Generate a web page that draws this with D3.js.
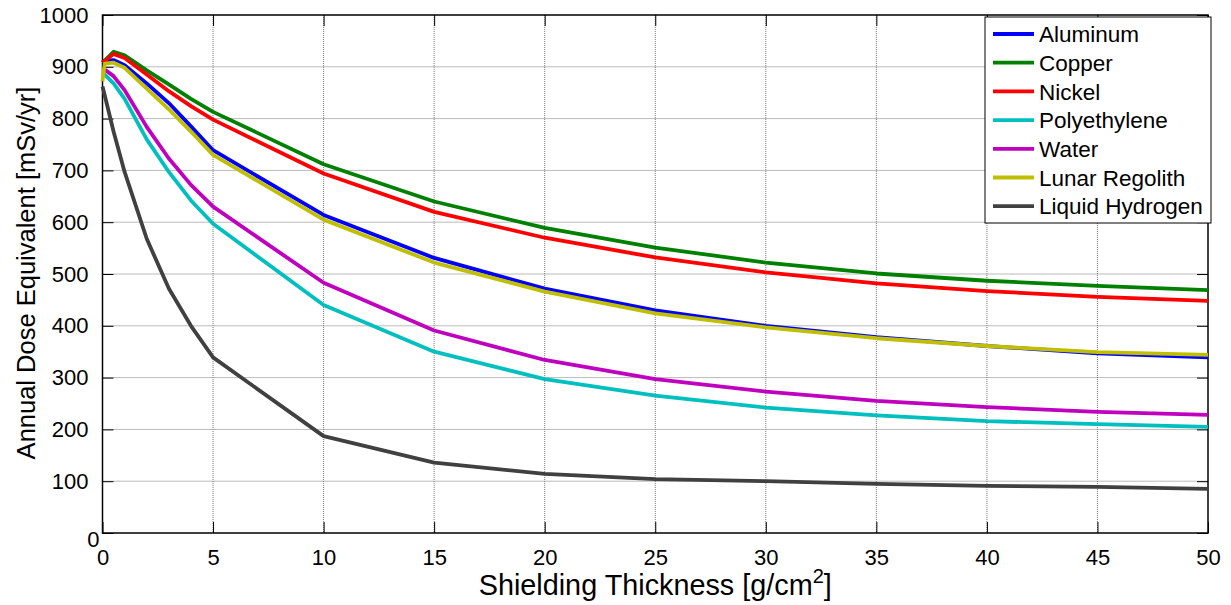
<!DOCTYPE html>
<html>
<head>
<meta charset="utf-8">
<script src="https://cdn.jsdelivr.net/npm/d3@7"></script>
<style>
    body { margin: 0; background: #fff; }
    text { font-family: "Liberation Sans", Arial, sans-serif; fill: #000; }
</style>
</head>
<body>
<div id="chart"></div>
<script>
// shielding thickness [g/cm2]
const thickness = [0, 0.1, 0.5, 1, 2, 3, 4, 5, 10, 15, 20, 25, 30, 35, 40, 45, 50];

// annual dose equivalent [mSv/yr]
const aluminum     = [908, 912, 913, 903, 868, 830, 785, 739, 614, 531, 472, 430, 400, 378, 361, 347, 339];
const copper       = [908, 912, 929, 922, 893, 866, 838, 813, 712, 640, 589, 551, 522, 501, 487, 477, 469];
const nickel       = [908, 911, 925, 917, 885, 853, 824, 798, 694, 620, 570, 532, 503, 482, 467, 456, 448];
const polyethylene = [888, 885, 868, 838, 760, 697, 642, 597, 440, 350, 297, 265, 242, 227, 216, 210, 205];
const water        = [897, 895, 882, 855, 784, 723, 672, 630, 483, 391, 334, 297, 273, 255, 243, 234, 228];
const regolith     = [872, 906, 908, 898, 858, 818, 775, 730, 605, 522, 466, 424, 397, 376, 361, 349, 344];
const hydrogen     = [862, 845, 775, 697, 568, 472, 400, 339, 187, 136, 114, 104, 100, 95, 91, 89, 85];

const seriesNames  = ['Aluminum', 'Copper', 'Nickel', 'Polyethylene', 'Water', 'Lunar Regolith', 'Liquid Hydrogen'];
const seriesValues = [aluminum, copper, nickel, polyethylene, water, regolith, hydrogen];
const seriesColors = ['#0000ff', '#008000', '#ff0000', '#00bfbf', '#bf00bf', '#bfbf00', '#404040'];

const xTicks = d3.range(0, 51, 5);
const yTicks = d3.range(0, 1001, 100);

const W = 1231, H = 605;
const margin = {top: 15, right: 23, bottom: 72, left: 102.5};
const width = W - margin.left - margin.right;
const height = H - margin.top - margin.bottom;

const svg = d3.select('#chart').append('svg')
    .attr('width', W)
    .attr('height', H);
const g = svg.append('g')
    .attr('transform', `translate(${margin.left}, ${margin.top})`);

const x = d3.scaleLinear().domain([0, 50]).range([0, width]);
const y = d3.scaleLinear().domain([0, 1000]).range([height, 0]);

// grid
g.append('g').selectAll('line').data(xTicks.slice(1, -1)).enter().append('line')
    .attr('x1', d => x(d)).attr('x2', d => x(d))
    .attr('y1', 0).attr('y2', height)
    .attr('stroke', '#777').attr('stroke-width', 1).attr('stroke-dasharray', '1,1');
g.append('g').selectAll('line').data(yTicks.slice(1, -1)).enter().append('line')
    .attr('x1', 0).attr('x2', width)
    .attr('y1', d => y(d)).attr('y2', d => y(d))
    .attr('stroke', '#777').attr('stroke-width', 1).attr('stroke-dasharray', '1,1');

// axes, ticks pointing inward on all four sides
const tickLen = 11;
const xAxis = g.append('g')
    .attr('transform', `translate(0, ${height})`)
    .call(d3.axisBottom(x).tickValues(xTicks).tickFormat(d3.format('d'))
        .tickSizeInner(-tickLen).tickSizeOuter(0).tickPadding(tickLen + 5));
const yAxis = g.append('g')
    .call(d3.axisLeft(y).tickValues(yTicks).tickFormat(d3.format('d'))
        .tickSizeInner(-tickLen).tickSizeOuter(0).tickPadding(tickLen + 3));
g.append('g')
    .call(d3.axisTop(x).tickValues(xTicks).tickSizeInner(-tickLen).tickSizeOuter(0).tickFormat(''));
g.append('g')
    .attr('transform', `translate(${width}, 0)`)
    .call(d3.axisRight(y).tickValues(yTicks).tickSizeInner(-tickLen).tickSizeOuter(0).tickFormat(''));

g.selectAll('.domain').remove();
g.selectAll('.tick line').attr('stroke', '#000');
g.selectAll('.tick text')
    .style('font-size', '22px')
    .style('font-family', '"Liberation Sans", Arial, sans-serif')
    .attr('fill', '#000');

// MATLAB nudges the overlapping y "0" label
yAxis.selectAll('.tick text').filter(d => d === 0)
    .attr('x', -3).attr('dy', '0.62em');

g.append('rect')
    .attr('width', width).attr('height', height)
    .attr('fill', 'none').attr('stroke', '#000').attr('stroke-width', 1.5);

// lines
const line = d3.line()
    .x((d, i) => x(thickness[i]))
    .y(d => y(d));

seriesValues.forEach((vals, k) => {
    g.append('path')
        .datum(vals)
        .attr('d', line)
        .attr('fill', 'none')
        .attr('stroke', seriesColors[k])
        .attr('stroke-width', 3.8)
        .attr('stroke-linejoin', 'round');
});

// axis labels
svg.append('text')
    .attr('x', margin.left + width / 2)
    .attr('y', 595)
    .attr('text-anchor', 'middle')
    .style('font-size', '28.8px')
    .html('Shielding Thickness [g/cm<tspan dy="-12" font-size="20px">2</tspan><tspan dy="12">]</tspan>');

svg.append('text')
    .attr('transform', `translate(35, ${margin.top + height / 2 - 1}) rotate(-90)`)
    .attr('text-anchor', 'middle')
    .style('font-size', '25.5px')
    .text('Annual Dose Equivalent [mSv/yr]');

// legend
const legend = svg.append('g').attr('transform', 'translate(985, 17)');
legend.append('rect')
    .attr('width', 226).attr('height', 206)
    .attr('fill', '#fff').attr('stroke', '#000').attr('stroke-width', 1);
seriesNames.forEach((name, k) => {
    const ly = 17 + k * 28.7;
    legend.append('line')
        .attr('x1', 8).attr('x2', 49)
        .attr('y1', ly).attr('y2', ly)
        .attr('stroke', seriesColors[k]).attr('stroke-width', 3.8);
    legend.append('text')
        .attr('x', 54).attr('y', ly)
        .attr('dy', '0.36em')
        .style('font-size', '22.5px')
        .text(name);
});
</script>
</body>
</html>
